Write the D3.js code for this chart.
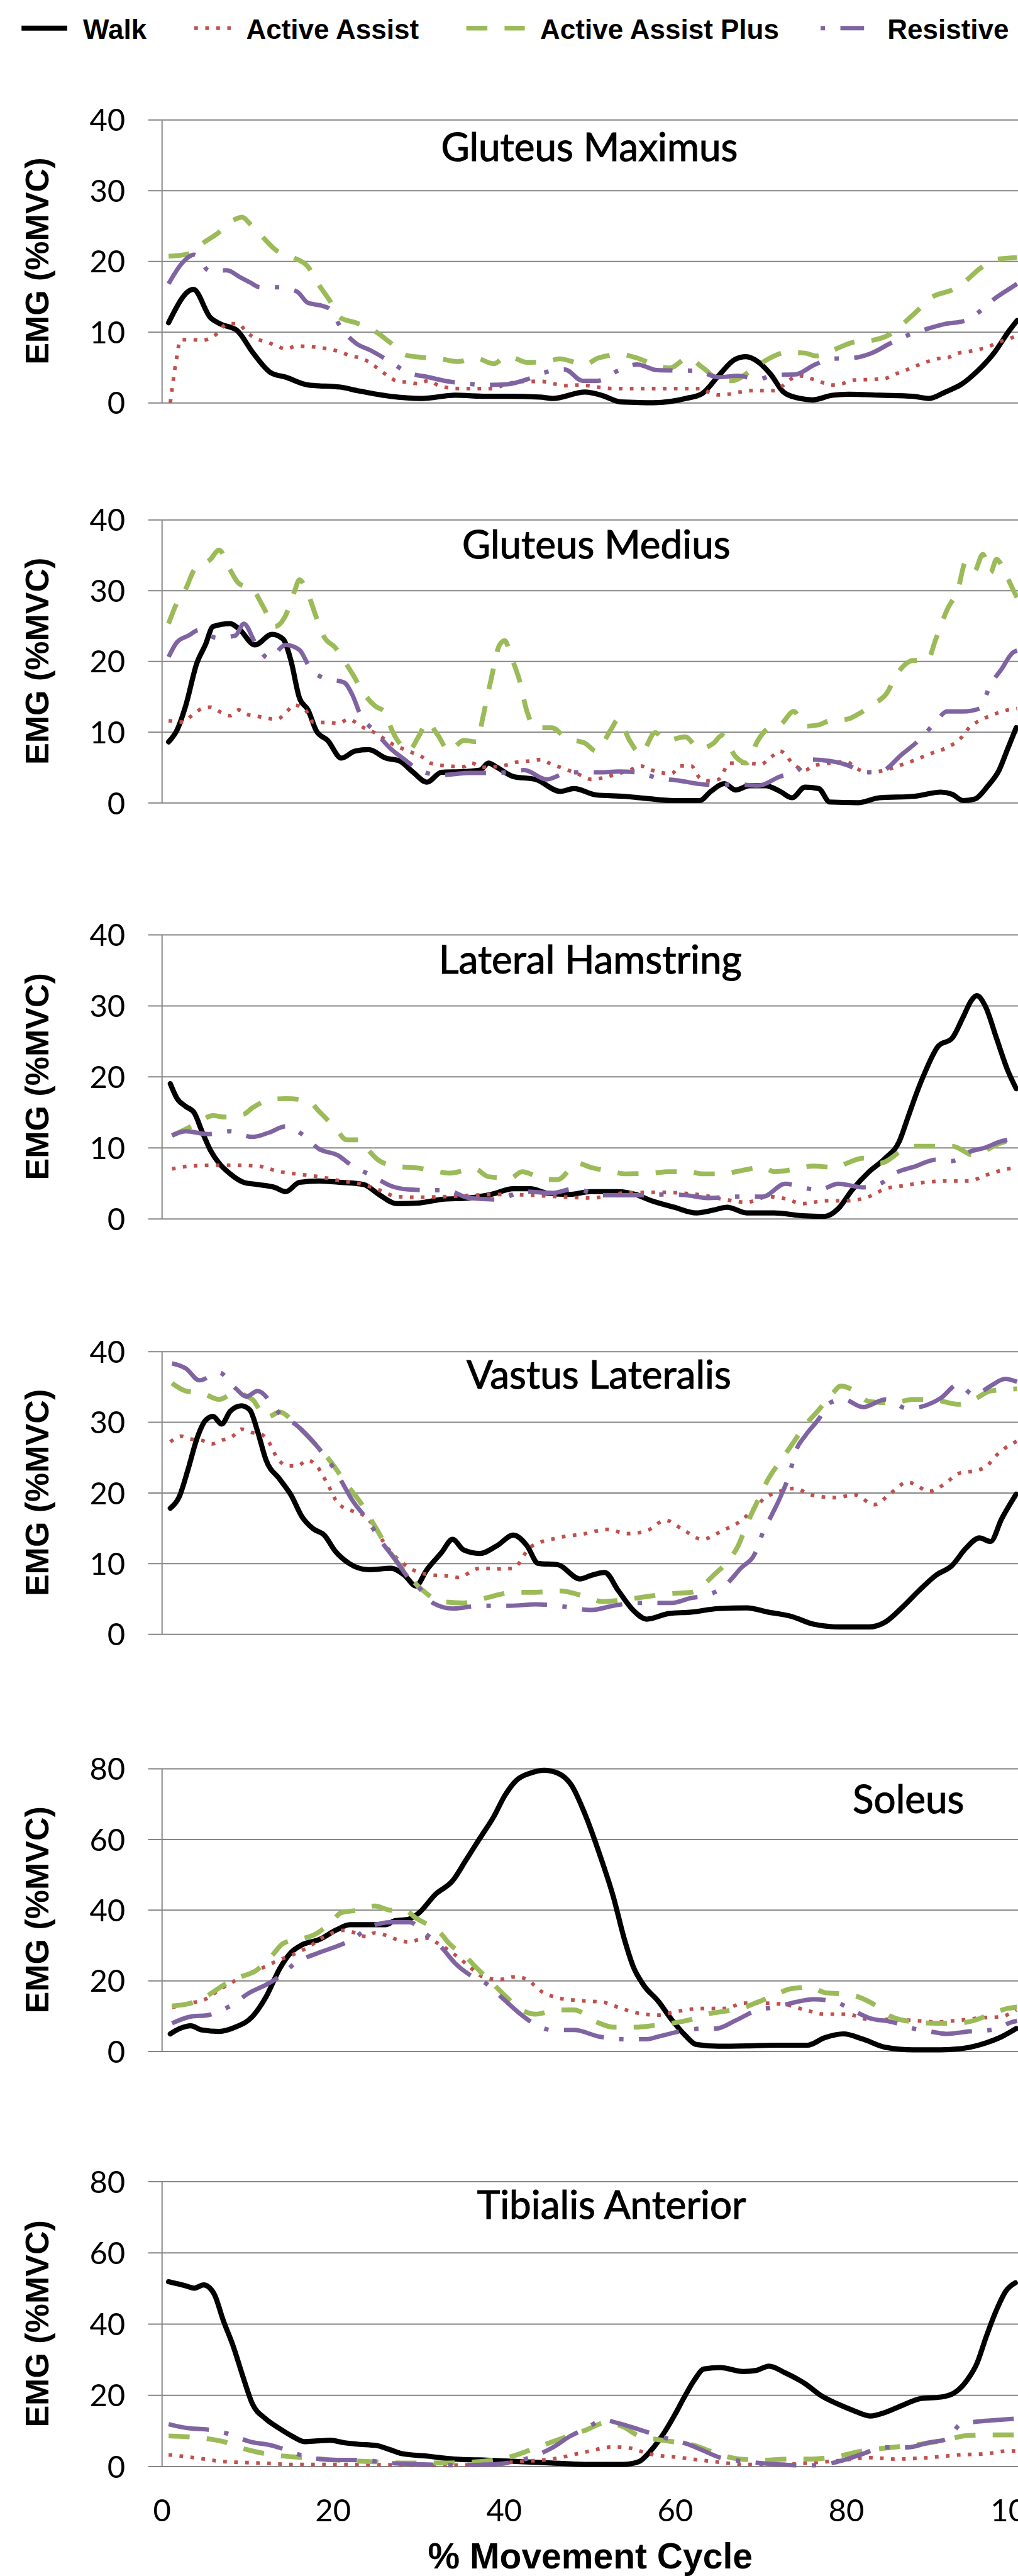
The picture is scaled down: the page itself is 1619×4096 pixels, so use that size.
<!DOCTYPE html>
<html><head><meta charset="utf-8">
<script src="https://cdn.jsdelivr.net/npm/d3@7"></script>
<style>html,body{margin:0;padding:0;background:#fff;} svg{display:block;}</style>
</head><body><svg id="chart" width="1619" height="4096"></svg>
<script>
// ---------- categories / labels ----------
const seriesNames = ["Walk", "Active Assist", "Active Assist Plus", "Resistive"];
const muscles = ["Gluteus Maximus", "Gluteus Medius", "Lateral Hamstring", "Vastus Lateralis", "Soleus", "Tibialis Anterior"];
const yMaxes = [40, 40, 40, 40, 80, 80];
const yTicks40 = [0, 10, 20, 30, 40];
const yTicks80 = [0, 20, 40, 60, 80];
const xTicks = [0, 20, 40, 60, 80, 100];
const titleCenters = [50, 50.8, 50.1, 51.1, 87.3, 52.6]; // % cycle where each panel title is centred
const yTitle = "EMG (%MVC)";
const xTitle = "% Movement Cycle";

// ---------- data: [% movement cycle, EMG %MVC] ----------
const gmaxWalk = [[0.8,11.3],[3.7,16.0],[5.7,12.0],[6.9,11.1],[8.8,10.2],[10.7,7.0],[12.8,4.2],[14.5,3.6],[17.1,2.5],[20.9,2.2],[22.9,1.7],[26.7,0.9],[30.4,0.6],[34.3,1.05],[38,0.9],[40.4,0.9],[44.2,0.8],[45.7,0.6],[49.5,1.5],[51.4,1.05],[53.7,0.1],[57.5,0],[61.3,0.6],[63.2,1.3],[65.1,3.8],[67,6.1],[68.3,6.5],[69.7,5.8],[71.2,4.0],[72.7,1.5],[74.6,0.6],[76.1,0.4],[78.4,1.05],[80.3,1.2],[84,1.05],[87.8,0.9],[89.7,0.6],[91.6,1.5],[93.5,2.6],[95.4,4.5],[97.3,7.0],[99.1,10.2],[100,11.6]];
const gmaxAA = [[1.0,0],[1.7,6],[2.2,8.9],[3.5,8.9],[4.7,8.8],[6.0,9.3],[7.8,11.2],[9.0,11.1],[9.9,10],[11.1,9.0],[12.2,8.6],[13.3,8.1],[14.5,7.6],[15.8,8.0],[18.3,7.8],[20.8,7.2],[21.9,6.7],[23.2,6.3],[24.3,5.7],[25.3,4.8],[26.3,3.9],[27.4,3.1],[28.6,2.9],[29.9,2.7],[31.2,3.1],[32.4,2.4],[33.5,2.1],[34.8,2.0],[38.8,2.0],[40,2.5],[42,3.0],[44.5,3.0],[46.1,2.6],[47.2,2.4],[48.8,2.5],[51,2.2],[52.6,2.0],[63.2,2.0],[63.6,1.7],[65.1,1.1],[66.3,1.2],[67.6,1.5],[68.9,1.7],[71.6,1.7],[72.6,2.4],[73.5,3.3],[74.6,3.8],[75.9,3.4],[77.1,2.9],[78.4,2.5],[79.6,2.7],[80.9,3.2],[83.4,3.3],[84.5,3.4],[85.9,4.1],[87,4.6],[88.2,5.2],[89.5,5.8],[90.7,6.2],[92,6.4],[93.1,7.0],[94.2,7.2],[95.4,7.5],[96.5,7.8],[97.7,8.5],[99,9.0],[100,9.5]];
const gmaxAAP = [[0.8,20.7],[3.1,21.0],[5,22.7],[6.5,23.9],[8.4,25.8],[9.4,26.2],[10.3,25.3],[11.8,23.4],[13.3,21.6],[15.4,20.5],[17.1,19.2],[18.4,16.6],[19.6,14.5],[20.9,12.0],[22.7,11.3],[24.8,10.2],[26.6,8.6],[28.6,6.7],[30.4,6.4],[32.5,6.2],[34.6,5.8],[36.7,6.3],[38.8,5.5],[40.3,6.5],[41.2,6.3],[42.7,5.7],[45,5.8],[46.5,6.2],[49.5,5.4],[51,6.3],[53.7,6.8],[55.6,6.3],[57.9,5.2],[59.4,4.9],[61.5,6.3],[63.2,5.0],[65.1,3.3],[66.6,3.1],[69.3,4.9],[70.8,6.1],[73.1,7.1],[75.2,7.0],[76.5,6.6],[78.4,7.4],[81.1,8.6],[83,8.8],[85.2,9.7],[86.8,11.3],[88.7,13.4],[89.8,14.7],[92.5,16.0],[93.8,17.0],[95.6,18.9],[97.4,20.2],[100,20.5]];
const gmaxRes = [[0.8,16.8],[2.3,19.6],[3.8,20.9],[5.6,18.6],[7.6,18.7],[9.2,17.7],[10.3,17.0],[11.5,16.3],[13.6,16.3],[15.8,15.7],[17.1,14.1],[18.7,13.7],[19.7,13.2],[20.9,10.7],[22.7,8.4],[24.4,7.4],[26.7,5.8],[28.7,4.3],[31.2,3.6],[33.5,3.0],[35.6,2.7],[38,2.5],[40.4,2.6],[42.7,3.3],[44.6,4.2],[47.1,4.7],[49.2,3.1],[51,3.1],[53.3,4.5],[55.6,5.4],[57.9,4.6],[62.5,4.5],[65.1,3.6],[67.4,3.8],[69.7,3.3],[71.6,3.9],[74.1,4.0],[76.4,5.4],[78.4,6.2],[80.7,6.3],[83,7.0],[85.2,8.4],[87.6,9.7],[89.4,10.4],[91.5,11.1],[94,11.6],[95.2,12.5],[97.6,14.9],[99.5,16.4],[100,16.8]];

const gmedWalk = [[0.8,8.6],[1.8,10.3],[2.8,13.7],[4.1,19.7],[5.1,22.3],[6,24.9],[8,25.3],[9,24.6],[10.9,22.3],[12.9,23.8],[14.2,23.1],[15.1,20.1],[16.1,14.8],[17.1,13.1],[18.1,10.1],[19.4,8.8],[21,6.3],[22.6,7.3],[24.2,7.5],[26.2,6.3],[27.8,5.9],[29.4,4.3],[31,2.9],[32.7,4.3],[35.3,4.4],[37.2,4.6],[38.2,5.6],[39.2,5.0],[41.1,3.7],[43.7,3.3],[46.6,1.6],[48.2,2.0],[50.8,1.1],[54.1,0.9],[56.7,0.6],[59.9,0.3],[62.9,0.3],[64.2,1.6],[65.8,2.7],[67.1,1.8],[68.7,2.4],[70.6,2.4],[72.3,1.6],[73.7,0.7],[75.2,2.2],[76.8,2.0],[78.1,0.1],[81.4,0],[83.9,0.7],[87.9,0.9],[91.1,1.5],[92.4,1.2],[93.7,0.3],[95,0.5],[96.6,2.4],[97.9,4.6],[98.9,7.6],[99.9,10.6]];
const gmedAA = [[0.8,11.6],[2.5,11.4],[3.4,12.2],[4.7,13.3],[5.7,13.5],[6.7,12.9],[8,12.3],[9,13.1],[9.9,12.5],[11.2,12.2],[13.5,11.8],[14.5,12.7],[15.5,13.8],[16.8,13.1],[17.7,11.4],[19.7,11.3],[20.6,11.2],[21.9,11.8],[22.6,11.4],[23.6,10.6],[24.9,9.9],[26.8,8.4],[28.8,7.3],[30.4,6.5],[31.4,5.6],[33.3,5.2],[35.3,5.1],[36.2,5.6],[37.5,5.0],[39.8,5.2],[41.8,5.8],[43.1,5.9],[44.3,6.1],[45.3,5.6],[46.6,5.0],[48.6,4.1],[50.2,3.3],[51.5,3.5],[52.8,3.9],[54.7,4.6],[56,5.2],[57.3,4.6],[59.6,4.1],[60.6,5.2],[61.9,5.2],[62.9,3.5],[63.8,3.1],[65.1,3.3],[66.4,5.6],[68.4,5.6],[70,5.4],[71.3,6.5],[72.3,7.3],[73.9,5.4],[75.2,4.6],[76.2,5.2],[78.1,5.6],[80.1,5.8],[81,5.0],[82.7,4.3],[84.6,4.6],[86.6,5.4],[88.2,6.1],[89.8,6.9],[91.8,7.8],[93.4,9.1],[94.4,10.6],[95.6,11.6],[96.9,12.3],[98.9,13.1],[100,13.3]];
const gmedAAP = [[0.8,25.3],[1.8,28.3],[2.8,30.2],[3.8,32.9],[5.7,34.4],[6.7,35.7],[8,32.9],[9,31.0],[10.6,30.2],[11.9,27.6],[13.2,24.9],[14.5,26.5],[15.5,29.8],[16.1,31.5],[17.1,29.5],[18.1,26.1],[19,23.4],[20.3,21.9],[21.3,20.1],[22.3,18.2],[23.6,15.5],[24.9,13.7],[26.2,12.7],[26.8,10.6],[27.8,8.4],[28.8,7.3],[30.1,9.5],[31,11.4],[32.3,9.5],[33.6,7.3],[35.3,8.8],[36.9,8.6],[37.5,11.8],[38.5,17.4],[39.5,22.3],[40.1,22.9],[40.8,20.8],[41.8,17.4],[42.7,12.9],[43.7,10.6],[45.6,10.6],[47.3,9.1],[49.5,8.4],[50.8,7.3],[52.5,10.3],[53.4,11.8],[54.7,8.8],[56,6.9],[57.7,9.9],[59,8.8],[61.2,9.3],[62.9,7.6],[64.5,8.4],[65.5,9.5],[67.1,6.5],[68.4,5.6],[69.7,8.8],[71,10.6],[72.3,11.0],[73.9,12.9],[75.2,10.8],[76.8,11.0],[78.1,11.6],[80.1,11.8],[81.4,12.5],[83.3,14.0],[84.6,15.2],[86.2,18.6],[87.9,20.1],[89.5,20.1],[90.5,23.1],[91.8,27.2],[93.1,30.2],[94,34.0],[95,32.7],[96,35.1],[96.9,32.5],[97.6,34.4],[98.6,32.5],[99.5,30.2],[100,29]];
const gmedRes = [[0.8,20.6],[1.8,22.7],[3.1,23.6],[4.4,24.4],[6.4,23.3],[8.6,23.6],[9.6,25.3],[10.9,22.7],[12.5,20.4],[14.5,22.3],[16.1,21.6],[17.4,18.9],[19,17.6],[21.3,17.0],[22.3,15.2],[23.2,12.5],[24.9,10.1],[26.8,7.6],[28.4,6.1],[30.1,4.6],[32.7,3.9],[35.9,4.2],[39.2,4.2],[42.4,4.6],[45,3.3],[47.6,4.3],[51.2,4.3],[53.4,4.4],[55.4,4.3],[58,3.5],[60.6,3.1],[63.2,2.6],[65.1,2.5],[67.3,2.6],[69.7,2.4],[72.3,3.7],[74.2,4.4],[75.8,6.1],[78.1,5.9],[80.4,5.2],[82,4.3],[84,4.4],[86.6,6.9],[88.5,8.8],[90.5,11.4],[91.8,12.9],[93.7,12.9],[95.6,13.3],[96.9,16.7],[98.2,18.9],[99.5,21.2],[100,21.5]];

const lhWalk = [[1.0,19.0],[1.8,16.9],[2.8,15.8],[3.8,14.9],[4.7,12.3],[5.7,9.6],[6.7,7.8],[8,6.3],[9.6,5.1],[11.2,4.8],[13.2,4.4],[14.5,3.8],[16.1,5.1],[18.4,5.3],[21,5.1],[23.6,4.8],[25.5,3.3],[27.5,2.1],[30.1,2.2],[32.7,2.7],[35.9,2.9],[38.5,3.4],[41.1,4.2],[43.1,4.2],[45,3.6],[47.6,3.4],[50.2,3.8],[53.4,3.8],[55.4,3.4],[57.3,2.5],[59.9,1.6],[62.5,0.8],[64.5,1.2],[66.1,1.6],[68.4,0.8],[71.6,0.8],[74.9,0.4],[77.5,0.3],[79.1,1.4],[80.7,4.0],[82.7,6.6],[84.6,8.5],[86.2,10.8],[87.2,14.1],[88.2,17.5],[89.2,20.5],[90.8,24.3],[92.4,25.4],[93.7,28.4],[94.7,30.8],[95.3,31.4],[96.3,29.9],[97.6,25.4],[98.9,20.9],[99.9,18.3]];
const lhAA = [[1.2,7.0],[3.4,7.4],[6,7.5],[8.6,7.5],[11.2,7.4],[13.8,6.6],[16.4,6.2],[18.4,5.9],[21,5.3],[23.6,4.8],[25.5,4.0],[27.5,3.1],[30.1,3.0],[33.3,3.1],[36.6,3.3],[39.8,3.4],[43.1,3.3],[46.3,3.1],[50.2,2.9],[54.1,3.6],[58,3.7],[60.6,3.6],[63.2,3.3],[65.8,2.7],[68.4,2.3],[70.9,3.1],[72.9,2.8],[74.9,2.1],[77.5,2.5],[80.1,2.5],[82.7,3.1],[84.6,4.2],[86.6,4.6],[89.2,5.1],[91.8,5.3],[94.4,5.3],[96.3,6.1],[98.2,6.8],[100,7.2]];
const lhAAP = [[1.2,11.7],[2.8,12.6],[4.1,13.4],[6,14.5],[7.3,14.3],[9.6,14.7],[10.6,15.6],[12.9,16.8],[14.5,16.9],[17.1,16.6],[18.4,15.1],[20.4,12.6],[21.6,11.1],[23.3,11.1],[24.2,9.6],[25.5,8.1],[27.8,7.3],[29.4,7.2],[32,6.7],[33.6,6.4],[36.6,7.0],[38.2,5.9],[40.8,5.7],[42.1,6.6],[45,5.5],[46.3,5.5],[48.6,7.8],[50.2,7.2],[52.8,6.6],[54.1,6.3],[57.3,6.4],[59.2,6.6],[61.5,6.6],[63.2,6.3],[65.8,6.3],[67.1,6.6],[70.3,7.2],[71.6,6.6],[74.2,7.0],[76.2,7.4],[78.8,7.2],[80.1,7.8],[82,8.5],[84,7.8],[86.6,9.6],[87.9,10.2],[92.4,10.2],[95,8.9],[96.3,9.6],[97.6,10.4],[100,11.3]];
const lhRes = [[1.2,11.7],[2.8,12.3],[5.4,11.9],[8,12.3],[10.6,11.5],[12.5,12.1],[14.5,13.0],[16.4,11.9],[18.4,9.8],[20.6,8.9],[22.3,7.4],[24.5,6.1],[26.8,4.6],[28.8,4.1],[31,4.0],[33.3,4.0],[35.9,2.9],[39.2,2.7],[42.4,3.8],[45.6,3.6],[48.2,4.2],[51.5,3.3],[56.7,3.3],[58.6,3.4],[61.2,3.3],[63.8,2.9],[67.1,3.1],[70.3,3.1],[72.9,4.9],[74.9,4.4],[76.8,4.0],[79.1,4.9],[82,4.4],[84,4.9],[85.6,6.3],[88.2,7.4],[90.5,8.3],[92.4,8.1],[94.4,9.4],[96.3,10.0],[97.9,10.8],[100,11.3]];

const vlWalk = [[1.0,17.8],[2.0,19.3],[3.1,23.4],[4.1,27.6],[5.1,30.2],[6,30.8],[7,29.7],[8,31.5],[9.3,32.3],[10.3,31.7],[11.2,28.7],[12.2,24.6],[13.8,21.9],[15.1,19.7],[16.4,16.6],[17.7,14.9],[19,14.0],[20.3,11.7],[21.9,10.0],[24.2,9.1],[26.8,9.3],[28.4,8.3],[29.7,6.8],[31,9.1],[32.7,11.5],[34,13.4],[35.3,11.9],[37.2,11.4],[39.2,12.5],[41.1,14.0],[42.7,12.5],[44,10.0],[46.3,9.8],[48.9,7.8],[50.2,8.3],[51.8,8.7],[53.4,6.1],[55.1,3.4],[56.7,2.1],[59.3,2.9],[61.9,3.1],[65.1,3.6],[68.4,3.7],[70.9,3.1],[73.6,2.5],[76.2,1.4],[79.4,1.0],[82.7,1.0],[84.6,1.7],[86.6,3.8],[88.5,6.1],[90.5,8.3],[92.4,9.7],[94,12.1],[95.6,13.6],[96.9,13.1],[98.2,16.3],[99.9,19.8]];
const vlAA = [[1.0,27.2],[2.3,28.0],[3.4,27.6],[4.7,27.4],[5.9,26.9],[7,27.4],[8.3,28.0],[9.3,29.0],[10.6,28.5],[11.6,28.3],[12.5,27.2],[13.5,24.9],[14.8,23.8],[15.8,23.8],[17.1,24.6],[18.1,23.8],[19.4,21.2],[20.6,18.5],[22.3,17.4],[23.6,16.8],[24.9,15.1],[26.2,12.5],[28.2,10.0],[30.1,8.7],[32,8.3],[33.6,8.2],[34.6,8.0],[37.2,9.3],[39.8,9.2],[41.1,9.3],[43.1,12.3],[46.3,13.6],[49.5,14.2],[52.1,14.8],[54.4,14.2],[56.7,14.6],[58.9,16.1],[60.9,14.8],[63.2,13.4],[65.5,14.6],[67.8,16.1],[69.4,18.0],[70.6,19.3],[72.3,20.2],[73.9,20.6],[76.2,19.6],[78.8,19.3],[81,19.7],[83.3,18.3],[85.3,20.0],[87.2,21.5],[89.8,20.2],[91.8,21.5],[93.1,22.7],[95,23.1],[96.3,23.6],[97.6,25.3],[99.2,26.8],[100,27.3]];
const vlAAP = [[1.2,35.5],[2.8,34.4],[4.7,34.1],[6.7,33.2],[8.6,34.1],[10.6,33.2],[12.2,30.6],[13.8,31.4],[15.8,29.5],[17.7,27.2],[20,24.0],[21.6,21.2],[23.3,18.5],[24.9,15.3],[26.8,11.4],[28.8,8.3],[30.4,6.3],[32.7,4.6],[35.3,4.4],[37.9,5.1],[41.1,5.9],[43.7,5.9],[46.6,6.1],[49.5,5.3],[51.5,4.6],[54.4,4.9],[56.7,5.3],[59.3,5.7],[61.9,5.9],[63.2,6.8],[64.5,8.3],[66.1,10.2],[67.4,12.5],[68.4,15.5],[69.7,18.9],[70.9,21.9],[72.6,24.9],[73.9,27.2],[75.2,29.5],[76.8,31.7],[78.4,34.0],[79.4,35.1],[81,34.4],[82.7,32.9],[85.3,32.7],[87.9,33.2],[90.5,33.1],[93.1,32.5],[95,33.2],[96.9,34.4],[98.9,34.6],[100,34.7]];
const vlRes = [[1.2,38.3],[2.8,37.6],[4.4,35.9],[6.7,37.0],[8.6,34.8],[9.9,33.6],[11.2,34.4],[13.8,31.2],[15.8,29.5],[17.7,27.2],[20.3,23.1],[22.3,18.9],[24.2,15.9],[25.5,13.4],[27.5,10.2],[28.8,8.0],[30.1,6.5],[31.7,4.4],[34,3.6],[37.2,4.0],[40.8,4.0],[43.7,4.2],[46.9,3.9],[50.2,3.4],[52.8,4.0],[55.4,4.4],[59.6,4.4],[61.9,5.1],[63.8,5.5],[65.8,6.8],[67.7,9.3],[69.4,11.5],[70.3,14.4],[71.3,16.8],[72.3,19.3],[73.3,22.3],[74.2,26.1],[75.2,28.0],[76.8,30.4],[78.1,32.7],[79.7,33.2],[82,32.1],[84.6,33.2],[87.2,31.9],[89.2,32.3],[91.1,33.4],[93.1,35.3],[95,33.8],[96.9,35.1],[98.6,36.1],[100,35.7]];

const solWalk = [[1.0,4.9],[2.1,6.4],[3.4,7.2],[4.7,6.0],[6.7,5.6],[8.6,6.8],[10.6,9.8],[12.2,15.4],[13.8,23.4],[15.1,27.9],[16.4,30.1],[18.4,31.6],[20.4,34.3],[22,35.8],[26.2,35.8],[27.2,36.9],[28.8,37.3],[30.1,39.2],[32,44.4],[34,48.2],[35.6,54.2],[37.2,60.3],[38.8,66.3],[40.1,72.3],[41.4,76.5],[43.1,78.7],[44.7,79.5],[46.3,78.7],[47.9,75.3],[49.5,67.0],[51.2,55.7],[52.8,43.7],[54.1,31.6],[55.1,24.1],[56.4,18.5],[58,14.3],[59.6,9.0],[61.2,4.5],[62.5,1.9],[65.1,1.4],[68.4,1.5],[71.6,1.7],[75.5,1.7],[77.5,3.8],[79.7,4.9],[82,3.4],[84.6,1.1],[87.9,0.4],[91.1,0.4],[93.7,0.8],[96.3,2.3],[98.2,4.1],[99.9,6.4]];
const solAA = [[1.2,12.4],[3.4,13.6],[5.1,14.7],[6.7,17.3],[8.3,19.6],[9.9,21.8],[11.6,23.4],[13.5,25.6],[15.1,27.1],[17.1,29.4],[19,32.4],[21.3,34.2],[22.6,33.5],[23.9,32.4],[24.9,33.5],[26.2,32.8],[27.5,31.6],[28.8,30.9],[30.1,31.6],[31,32.0],[32,30.9],[33.3,29.0],[34.6,26.7],[35.9,24.1],[37.5,21.1],[39.5,20.3],[41.4,21.1],[42.7,20.3],[44.4,16.9],[46.3,15.1],[48.9,14.3],[51.5,13.9],[53.4,12.4],[55.4,10.9],[58,10.2],[60.3,11.3],[63.2,12.1],[65.8,12.1],[68.1,13.6],[70.3,13.6],[72.9,13.2],[75.2,11.7],[77.5,10.5],[80.1,10.5],[82.7,9.0],[85.3,9.0],[87.9,8.7],[90.5,8.3],[93.1,8.7],[95.6,9.4],[98.2,9.8],[99.9,11.7]];
const solAAP = [[1.2,12.8],[3.4,13.6],[5.4,15.8],[7.3,18.8],[9.3,21.1],[10.9,22.6],[12.9,27.1],[14.2,30.5],[15.8,31.6],[17.7,32.8],[19.7,36.2],[21,39.2],[22.9,39.9],[24.9,41.1],[26.8,39.9],[28.4,39.9],[29.7,37.7],[31.4,35.4],[32.7,33.1],[33.6,30.5],[35.6,26.7],[36.6,24.1],[38.5,19.6],[40.1,15.8],[41.8,12.1],[43.7,10.5],[46.3,11.7],[48.2,11.7],[50.8,8.3],[52.8,6.8],[55.4,6.8],[57.3,7.2],[59.6,7.9],[61.9,9.0],[63.8,10.5],[65.8,11.3],[67.7,12.1],[69.7,13.9],[71.6,15.8],[73.6,17.7],[75.8,18.1],[77.5,16.6],[79.4,16.2],[81.4,15.4],[83.3,13.2],[85.3,9.8],[87.9,8.3],[90.5,7.9],[92.8,7.9],[95,8.7],[96.9,10.5],[98.9,12.1],[100,12.5]];
const solRes = [[1.2,7.9],[3.4,9.8],[5.4,10.2],[8,12.8],[10.3,16.6],[12.2,18.8],[13.5,20.7],[15.8,25.2],[18.4,27.9],[20.6,29.8],[22.3,31.6],[24.2,35.0],[26.8,36.5],[29,36.5],[30.7,33.5],[32.7,29.4],[34.3,24.9],[35.9,21.8],[37.9,19.2],[39.8,15.1],[42.1,10.2],[43.7,7.5],[45.6,6.0],[48.2,6.0],[51.2,4.1],[54.1,3.4],[56.7,3.4],[58,4.1],[60.6,5.6],[63.2,6.4],[64.8,6.4],[67.1,8.7],[69.7,11.7],[71.6,12.4],[73.6,13.6],[76.2,14.7],[78.8,13.9],[80.7,11.7],[82.7,9.4],[85.3,8.3],[87.9,6.4],[89.8,5.6],[91.8,4.9],[94.4,5.6],[96.9,6.0],[99.5,8.3],[100,8.6]];

const taWalk = [[0.8,51.8],[2.7,50.7],[3.8,50.0],[4.9,50.9],[6.1,48.5],[7.2,40.9],[8.4,33.4],[9.5,25.1],[10.6,17.5],[12.1,13.4],[13.7,10.7],[15.2,8.5],[16.7,6.9],[18.2,7.1],[19.7,7.3],[21.3,6.6],[22.8,6.2],[25.1,5.8],[26.6,4.7],[28.1,3.5],[31.1,2.8],[34.2,2.0],[38,1.7],[41.8,1.3],[45.6,0.9],[49.4,0.5],[53.9,0.5],[55.8,1.3],[57.3,4.7],[58.5,8.5],[60,14.5],[61.1,19.4],[62.3,24.3],[63.4,27.3],[65.3,27.7],[68,26.6],[69.5,26.9],[71,28.1],[72.9,26.2],[75.2,23.2],[77.1,19.8],[79,17.5],[80.9,15.6],[82.8,14.1],[84.7,15.2],[86.6,17.1],[88.8,19.0],[91.1,19.4],[92.6,20.5],[94.2,24.3],[95.3,28.8],[96.4,36.4],[97.6,43.9],[98.7,49.2],[99.8,51.5]];
const taAA = [[0.8,3.2],[3.8,2.4],[7.2,1.3],[11.4,0.9],[15.2,0.5],[20.5,0.5],[26.6,0.4],[32.6,0.3],[38,0.5],[41.8,1.3],[45.6,2.0],[49.4,3.9],[52.8,5.4],[54.7,5.1],[56.9,3.5],[60.7,2.4],[64.5,1.3],[68.3,0.5],[72.1,0.5],[75.9,0.9],[79.7,1.7],[82.8,2.4],[85.8,2.0],[89.6,2.4],[93.4,3.2],[96.4,3.5],[99.1,4.3],[100,4.3]];
const taAAP = [[0.8,8.5],[3.8,8.1],[7.2,6.9],[9.9,4.7],[12.9,3.2],[16.7,2.4],[20.5,1.7],[24.3,1.3],[28.1,0.9],[32.6,0.9],[37.2,1.3],[41,2.8],[44,5.4],[47.1,8.1],[49.4,10.0],[52,12.2],[53.9,11.1],[55.8,8.5],[58.5,7.3],[62.3,5.8],[64.5,3.9],[67.6,2.0],[70.6,1.7],[73.3,2.0],[75.9,2.0],[79,2.8],[82,4.3],[85.8,5.4],[88.8,6.2],[91.5,7.3],[94.2,8.6],[97.2,8.8],[100,8.8]];
const taRes = [[0.8,11.8],[3,10.7],[5.3,10.3],[7.6,9.2],[10.3,6.9],[12.9,5.8],[14.4,4.7],[16.7,2.8],[19.7,1.8],[23.5,1.7],[26.6,0.9],[30.4,0.5],[34.2,0.3],[38.7,0.5],[42.5,2.0],[45.6,5.1],[47.8,8.5],[49.7,10.7],[51.6,13.0],[53.2,12.2],[56.2,10.0],[59.2,7.7],[61.5,6.2],[63,4.7],[65.3,2.4],[68.3,1.3],[72.1,0.5],[75.2,0.2],[77.4,0.5],[79.7,1.7],[82,3.5],[84.3,5.3],[87.3,5.3],[89.6,6.6],[91.9,7.7],[93.4,11.8],[95.7,12.6],[97.9,13.0],[100,13.4]];

// ---------- table built from the arrays ----------
const panelSeries = [
  [gmaxWalk, gmaxAA, gmaxAAP, gmaxRes],
  [gmedWalk, gmedAA, gmedAAP, gmedRes],
  [lhWalk, lhAA, lhAAP, lhRes],
  [vlWalk, vlAA, vlAAP, vlRes],
  [solWalk, solAA, solAAP, solRes],
  [taWalk, taAA, taAAP, taRes]
];

// ---------- layout (reference pixels scaled by S) ----------
const S = 0.699;
const W = 1619;
const plotTop = [272, 1182, 2126, 3074, 4023, 4962].map(v => v * S);
const plotBot = [916, 1826, 2772, 3717, 4666, 5610].map(v => v * S);
const titleBase = [366, 1270, 2214, 3159, 4124, 5047].map(v => v * S);

const lineStyles = [
  { color: "#000000", width: 8.2, dash: null },
  { color: "#C0504D", width: 5.8, dash: "5.8 11.7" },
  { color: "#9BBB59", width: 7.7, dash: "33.5 27.3" },
  { color: "#8064A2", width: 7.0, dash: "65 24.5 7 24.5" }
];
const gridColor = "#868686";
const calibri = "Lato, 'Open Sans', sans-serif";
const arial = "'Liberation Sans', Arial, sans-serif";

const svg = d3.select("#chart");
svg.append("rect").attr("width", W).attr("height", 4096).attr("fill", "#fff");

const x = d3.scaleLinear().domain([0, 100]).range([368 * S, 2314 * S]);
const x0 = x(0);

panelSeries.forEach((series, i) => {
  const y = d3.scaleLinear().domain([0, yMaxes[i]]).range([plotBot[i], plotTop[i]]);
  const ticks = yMaxes[i] === 40 ? yTicks40 : yTicks80;
  const g = svg.append("g");

  // y axis with gridlines
  const ax = g.append("g").attr("transform", `translate(${x0},0)`)
    .call(d3.axisLeft(y).tickValues(ticks).tickSizeInner(-(W - x0)).tickSizeOuter(0).tickPadding(58));
  ax.select(".domain").attr("stroke", gridColor).attr("stroke-width", 2);
  ax.selectAll(".tick line").attr("x1", -21.6).attr("stroke", gridColor).attr("stroke-width", 2);
  ax.selectAll(".tick text").attr("font-family", calibri).attr("font-size", 49).attr("fill", "#000").attr("dy", "0.36em");

  // panel title
  g.append("text").attr("x", x(titleCenters[i])).attr("y", titleBase[i])
    .attr("text-anchor", "middle").attr("font-family", calibri).attr("font-size", 62)
    .attr("fill", "#000").attr("stroke", "#000").attr("stroke-width", 1.1)
    .text(muscles[i]);

  // y axis title
  const cy = (plotTop[i] + plotBot[i]) / 2;
  g.append("text").attr("transform", `translate(${85 * S + 18},${cy}) rotate(-90)`)
    .attr("text-anchor", "middle").attr("font-family", arial).attr("font-weight", "bold")
    .attr("font-size", 52).attr("fill", "#000").text(yTitle);

  // series
  const line = d3.line().x(d => x(d[0])).y(d => y(d[1])).curve(d3.curveMonotoneX);
  series.forEach((data, s) => {
    const st = lineStyles[s];
    const p = g.append("path").datum(data).attr("d", line)
      .attr("fill", "none").attr("stroke", st.color).attr("stroke-width", st.width)
      .attr("stroke-linejoin", "round").attr("stroke-linecap", s === 0 ? "round" : "butt");
    if (st.dash) p.attr("stroke-dasharray", st.dash);
  });

  // x axis labels on the last panel
  if (i === panelSeries.length - 1) {
    const xa = g.append("g").attr("transform", `translate(0,${plotBot[i]})`)
      .call(d3.axisBottom(x).tickValues(xTicks).tickSize(0).tickPadding(53));
    xa.select(".domain").remove();
    xa.selectAll(".tick text").attr("font-family", calibri).attr("font-size", 49).attr("fill", "#000");
  }
});

// x axis title
svg.append("text").attr("x", 1343 * S).attr("y", 5842 * S).attr("text-anchor", "middle")
  .attr("font-family", arial).attr("font-weight", "bold").attr("font-size", 57)
  .attr("fill", "#000").text(xTitle);

// legend
const legY = 64 * S;
const legendItems = [
  { x1: 49, x2: 153, tx: 189, off: 0 },
  { x1: 442, x2: 525, tx: 560, off: 0 },
  { x1: 1061, x2: 1194, tx: 1229, off: 0 },
  { x1: 1867, x2: 1966, tx: 2019, off: 89.5 }
];
const leg = svg.append("g");
legendItems.forEach((it, s) => {
  const st = lineStyles[s];
  const l = leg.append("line").attr("x1", it.x1 * S).attr("x2", it.x2 * S).attr("y1", legY).attr("y2", legY)
    .attr("stroke", st.color).attr("stroke-width", st.width);
  if (st.dash) l.attr("stroke-dasharray", st.dash).attr("stroke-dashoffset", it.off);
  leg.append("text").attr("x", it.tx * S).attr("y", 89 * S).attr("font-family", arial)
    .attr("font-weight", "bold").attr("font-size", 44).attr("fill", "#000").text(seriesNames[s]);
});
</script>
</body></html>
